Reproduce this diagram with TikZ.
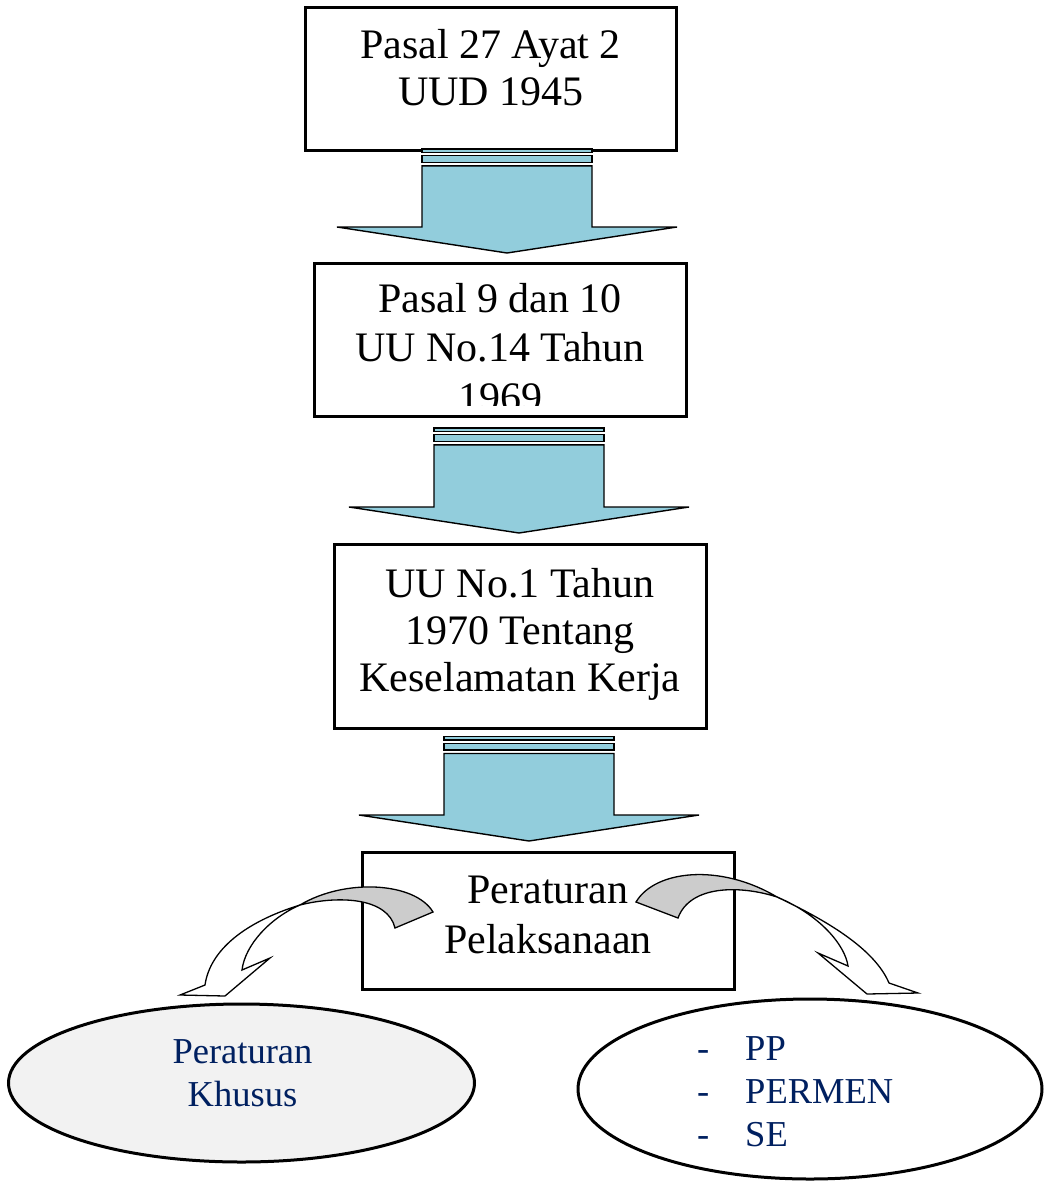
\documentclass[tikz,border=0pt]{standalone}
\usepackage{fontspec}
\setmainfont{Liberation Serif}
\usetikzlibrary{shapes.geometric}
\definecolor{arrblue}{RGB}{146,205,220}
\definecolor{tailgray}{RGB}{204,204,204}
\definecolor{ellgray}{RGB}{242,242,242}
\definecolor{navytext}{RGB}{0,32,96}
\newcommand\blockarr[4]{% #1 centre x, #2 top of first bar, #3 y of wings, #4 y of tip
  \filldraw[barr] ({#1-85},{#2}) rectangle ({#1+85},{#2+3.4});
  \filldraw[barr] ({#1-85},{#2+6.7}) rectangle ({#1+85},{#2+13.4});
  \filldraw[barr] ({#1-85},{#2+16.8}) -- ({#1+85},{#2+16.8}) -- ({#1+85},{#3}) -- ({#1+170},{#3})
     -- ({#1},{#4}) -- ({#1-170},{#3}) -- ({#1-85},{#3}) -- cycle;}
\begin{document}
\begin{tikzpicture}[x=1pt,y=-1pt,
  box/.style={draw, line width=3pt, rectangle, fill=white, inner sep=0pt},
  btext/.style={anchor=base, font=\fontsize{42}{48}\selectfont, inner sep=0pt},
  etext/.style={anchor=base, font=\fontsize{36.5}{44}\selectfont, text=navytext, inner sep=0pt},
  elist/.style={anchor=base west, font=\fontsize{36.5}{44}\selectfont, text=navytext, inner sep=0pt},
  barr/.style={fill=arrblue, draw=black, line width=1.4pt},
  carr/.style={draw=black, line width=1.3pt, line join=miter},
  ell/.style={draw, ellipse, line width=3pt, inner sep=0pt}]
\useasboundingbox (0,0) rectangle (1051,1181);
\fill[white] (0,0) rectangle (1051,1181);

% boxes
\node[box, minimum width=371pt, minimum height=143pt] (b1) at (490.5,79) {};
\node[box, minimum width=372pt, minimum height=153pt] (b2) at (500,339.5) {};
\node[box, minimum width=372pt, minimum height=184pt] (b3) at (520,636) {};
\node[box, minimum width=372pt, minimum height=137pt] (b4) at (548,921) {};

% box texts
\node[btext] (t1a) at (490.5,58.5) {Pasal 27 Ayat 2};
\node[btext] (t1b) at (491,105.5) {UUD 1945};
\node[btext] (t2a) at (500,312.5) {Pasal 9 dan 10};
\node[btext] (t2b) at (500,361.5) {UU No.14 Tahun};
\begin{scope}
  \clip (313,262) rectangle (687,405.5);
  \node[btext] (t2c) at (500,411) {1969};
\end{scope}
\node[btext] (t3a) at (520,597) {UU No.1 Tahun};
\node[btext] (t3b) at (520,644.5) {1970 Tentang};
\node[btext] (t3c) at (520,691.5) {Keselamatan Kerja};
\node[btext] (t4a) at (548,903.5) {Peraturan};
\node[btext] (t4b) at (548,953) {Pelaksanaan};

% block arrows
\blockarr{507}{149}{227}{253}
\blockarr{519}{428}{507}{533}
\blockarr{529}{736.7}{815}{841}

% ellipses
\node[ell, fill=ellgray, minimum width=466pt, minimum height=158pt] (e1) at (241.5,1083) {};
\node[ell, fill=white, minimum width=464pt, minimum height=180pt] (e2) at (810,1089) {};
\node[etext] (e1a) at (242.5,1063) {Peraturan};
\node[etext] (e1b) at (242.5,1106) {Khusus};
\node[elist] (d1) at (697,1060) {-};
\node[elist] (d2) at (697,1103) {-};
\node[elist] (d3) at (697,1146) {-};
\node[elist] (l1) at (745,1060) {PP};
\node[elist] (l2) at (745,1103) {PERMEN};
\node[elist] (l3) at (745,1146) {SE};

% curved arrows (left)
\filldraw[carr, fill=white] (300,905) .. controls (245,922) and (210,950) .. (205,985)
  -- (180,995) -- (225,996) -- (270,958) -- (242,970)
  .. controls (245,945) and (270,918) .. (300,905) -- cycle;
\filldraw[carr, fill=tailgray] (433,912) .. controls (415,882) and (345,878) .. (300,905)
  .. controls (340,895) and (388,898) .. (395,928) -- cycle;

% curved arrows (right)
\filldraw[carr, fill=white] (777,897) .. controls (830,922) and (875,950) .. (889,983)
  -- (918,993) -- (867,994) -- (818,953) -- (848,966)
  .. controls (845,945) and (820,915) .. (777,897) -- cycle;
\filldraw[carr, fill=tailgray] (636,902) .. controls (655,870) and (720,863) .. (777,897)
  .. controls (740,885) and (690,885) .. (678,918) -- cycle;
\end{tikzpicture}
\end{document}
